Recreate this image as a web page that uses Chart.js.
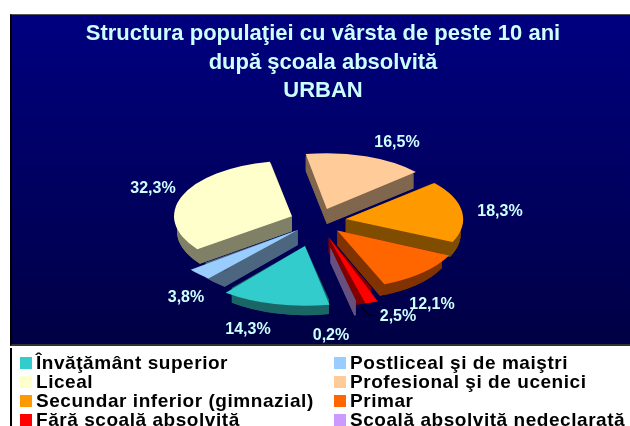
<!DOCTYPE html>
<html>
<head>
    <meta charset="UTF-8">
    <title>Structura populaţiei - URBAN</title>
    <style>
        body { margin: 0; background: #fff; font-family: "Liberation Sans", Arial, sans-serif; }
        .cadru {
            position: absolute; left: 10px; top: 14px; width: 620px; height: 332px; overflow: hidden;
            border-left: 2px solid #000; border-top: 1px solid #555; border-bottom: 2px solid #333;
            box-sizing: border-box;
            background: linear-gradient(#000080, #000044);
        }
        .titlu {
            position: absolute; left: 12px; top: 19px; width: 622px; text-align: center;
            font-weight: bold; font-size: 22px; line-height: 28.6px; color: #CCFFFF;
        }
        .et {
            position: absolute; font-weight: bold; font-size: 16px; color: #CCFFFF;
            transform: translate(-50%, -50%); white-space: nowrap;
        }
        .jos {
            position: absolute; left: 10px; top: 348px; width: 620px; height: 78px;
            border-left: 2px solid #000; box-sizing: border-box; overflow: hidden;
        }
        .item {
            position: absolute; font-weight: bold; font-size: 19px; line-height: 19px; height: 19px;
            white-space: nowrap; color: #000; letter-spacing: 0.55px;
        }
        .item i { display: inline-block; width: 12px; height: 12px; margin-right: 4px; }
    </style>
    <script src="https://cdn.jsdelivr.net/npm/chart.js@4"></script>
</head>
<body>
    <script>
        const categorii = ["Învăţământ superior", "Postliceal şi de maiştri", "Liceal", "Profesional şi de ucenici",
            "Secundar inferior (gimnazial)", "Primar", "Fără scoală absolvită", "Scoală absolvită nedeclarată"];
        const valori = [14.3, 3.8, 32.3, 16.5, 18.3, 12.1, 2.5, 0.2];
        const etichete = ["14,3%", "3,8%", "32,3%", "16,5%", "18,3%", "12,1%", "2,5%", "0,2%"];
        const titluri = ["Structura populaţiei cu vârsta de peste 10 ani", "după şcoala absolvită", "URBAN"];

        const culori = ["#33CCCC", "#99CCFF", "#FFFFCC", "#FFCC99", "#FF9900", "#FF6600", "#FF0000", "#CC99FF"];
        const inchise = ["#1A6666", "#4D6680", "#808066", "#80664D", "#804D00", "#803300", "#800000", "#665080"];
        const explodare = [220, 112, 112, 108, 112, 112, 144, 232];
        // pozitia etichetelor fata de centrul placintei
        const pozEtichete = [[-70, 108], [-132, 76], [-165, -33], [79, -79], [182, -10], [114, 83], [80, 95], [13, 114]];

        const cadru = document.createElement("div");
        cadru.className = "cadru";
        const cv = document.createElement("canvas");
        cv.width = 618;
        cv.height = 329;
        cv.getContext("2d", { willReadFrequently: true });
        cadru.appendChild(cv);
        document.body.appendChild(cadru);

        let cuPereti = true;

        // o fata a peretelui: o singura umplere
        function umple(ctx, culoare, traseu) {
            ctx.fillStyle = culoare;
            ctx.beginPath();
            traseu();
            ctx.closePath();
            ctx.fill();
        }

        const relief = {
            id: "relief",
            beforeDatasetsDraw(chart) {
                const ctx = chart.ctx;
                const arcs = chart.getDatasetMeta(0).data;
                const c = arcs[0];
                ctx.save();
                ctx.translate(c.x, c.y);
                ctx.scale(1, .47);
                ctx.translate(-c.x, -c.y);
                if (!cuPereti) return;
                const h = 15 / .47;
                arcs.forEach((a, i) => {
                    const mid = (a.startAngle + a.endAngle) / 2;
                    const o = a.options.offset / 4;
                    const x = a.x + Math.cos(mid) * o;
                    const y = a.y + Math.sin(mid) * o;
                    const r = a.outerRadius;
                    const col = inchise[i];
                    umple(ctx, col, () => {
                        ctx.moveTo(x, y + h);
                        ctx.arc(x, y + h, r, a.startAngle, a.endAngle);
                    });
                    umple(ctx, col, () => {
                        ctx.arc(x, y, r, a.startAngle, a.endAngle);
                        ctx.arc(x, y + h, r, a.endAngle, a.startAngle, true);
                    });
                    [a.startAngle, a.endAngle].forEach(u => {
                        const px = x + Math.cos(u) * r;
                        const py = y + Math.sin(u) * r;
                        umple(ctx, col, () => {
                            ctx.moveTo(x, y);
                            ctx.lineTo(px, py);
                            ctx.lineTo(px, py + h);
                            ctx.lineTo(x, y + h);
                        });
                    });
                });
            },
            afterDatasetsDraw(chart) {
                chart.ctx.restore();
            }
        };

        function deseneaza() {
            return new Chart(cv, {
                type: "pie",
                data: {
                    labels: categorii,
                    datasets: [{
                        data: valori,
                        backgroundColor: culori,
                        borderWidth: 0,
                        offset: explodare,
                        clip: false
                    }]
                },
                options: {
                    responsive: false,
                    animation: false,
                    radius: 115,
                    rotation: 168,
                    layout: { padding: { top: 83, right: 6 } },
                    plugins: { legend: { display: false }, tooltip: { enabled: false } }
                },
                plugins: [relief]
            });
        }

        let grafic = deseneaza();
        const c0 = grafic.getDatasetMeta(0).data[0];
        // daca felia galbena nu a iesit, renunta la pereti
        if (cv.getContext("2d").getImageData(c0.x - 90, c0.y - 20, 1, 1).data[3] === 0) {
            grafic.destroy();
            cuPereti = false;
            grafic = deseneaza();
        }

        // titlul si etichetele, text real peste canvas
        const t = document.createElement("div");
        t.className = "titlu";
        t.innerHTML = titluri.join("<br>");
        document.body.appendChild(t);

        const c = grafic.getDatasetMeta(0).data[0];
        const cx = 12 + c.x;
        const cy = 15 + c.y;
        etichete.forEach((text, i) => {
            const el = document.createElement("div");
            el.className = "et";
            el.textContent = text;
            el.style.left = (cx + pozEtichete[i][0]) + "px";
            el.style.top = (cy + pozEtichete[i][1]) + "px";
            document.body.appendChild(el);
        });

        // linia de legatura pentru 2,5%
        const svg = document.createElementNS("http://www.w3.org/2000/svg", "svg");
        svg.setAttribute("width", 630);
        svg.setAttribute("height", 426);
        svg.style.position = "absolute";
        svg.style.left = "0";
        svg.style.top = "0";
        const linie = document.createElementNS("http://www.w3.org/2000/svg", "polyline");
        linie.setAttribute("points", [[43, 86], [51, 94], [59, 95]].map(p => (cx + p[0]) + "," + (cy + p[1])).join(" "));
        linie.setAttribute("fill", "none");
        linie.setAttribute("stroke", "#000");
        svg.appendChild(linie);
        document.body.appendChild(svg);

        // legenda pe doua coloane, construita din categorii
        const jos = document.createElement("div");
        jos.className = "jos";
        document.body.appendChild(jos);
        categorii.forEach((nume, n) => {
            const el = document.createElement("div");
            el.className = "item";
            el.style.left = (n % 2 ? 322 : 8) + "px";
            el.style.top = (5 + Math.floor(n / 2) * 19) + "px";
            const sw = document.createElement("i");
            sw.style.background = culori[n];
            el.appendChild(sw);
            el.appendChild(document.createTextNode(nume));
            jos.appendChild(el);
        });
    </script>
</body>
</html>
